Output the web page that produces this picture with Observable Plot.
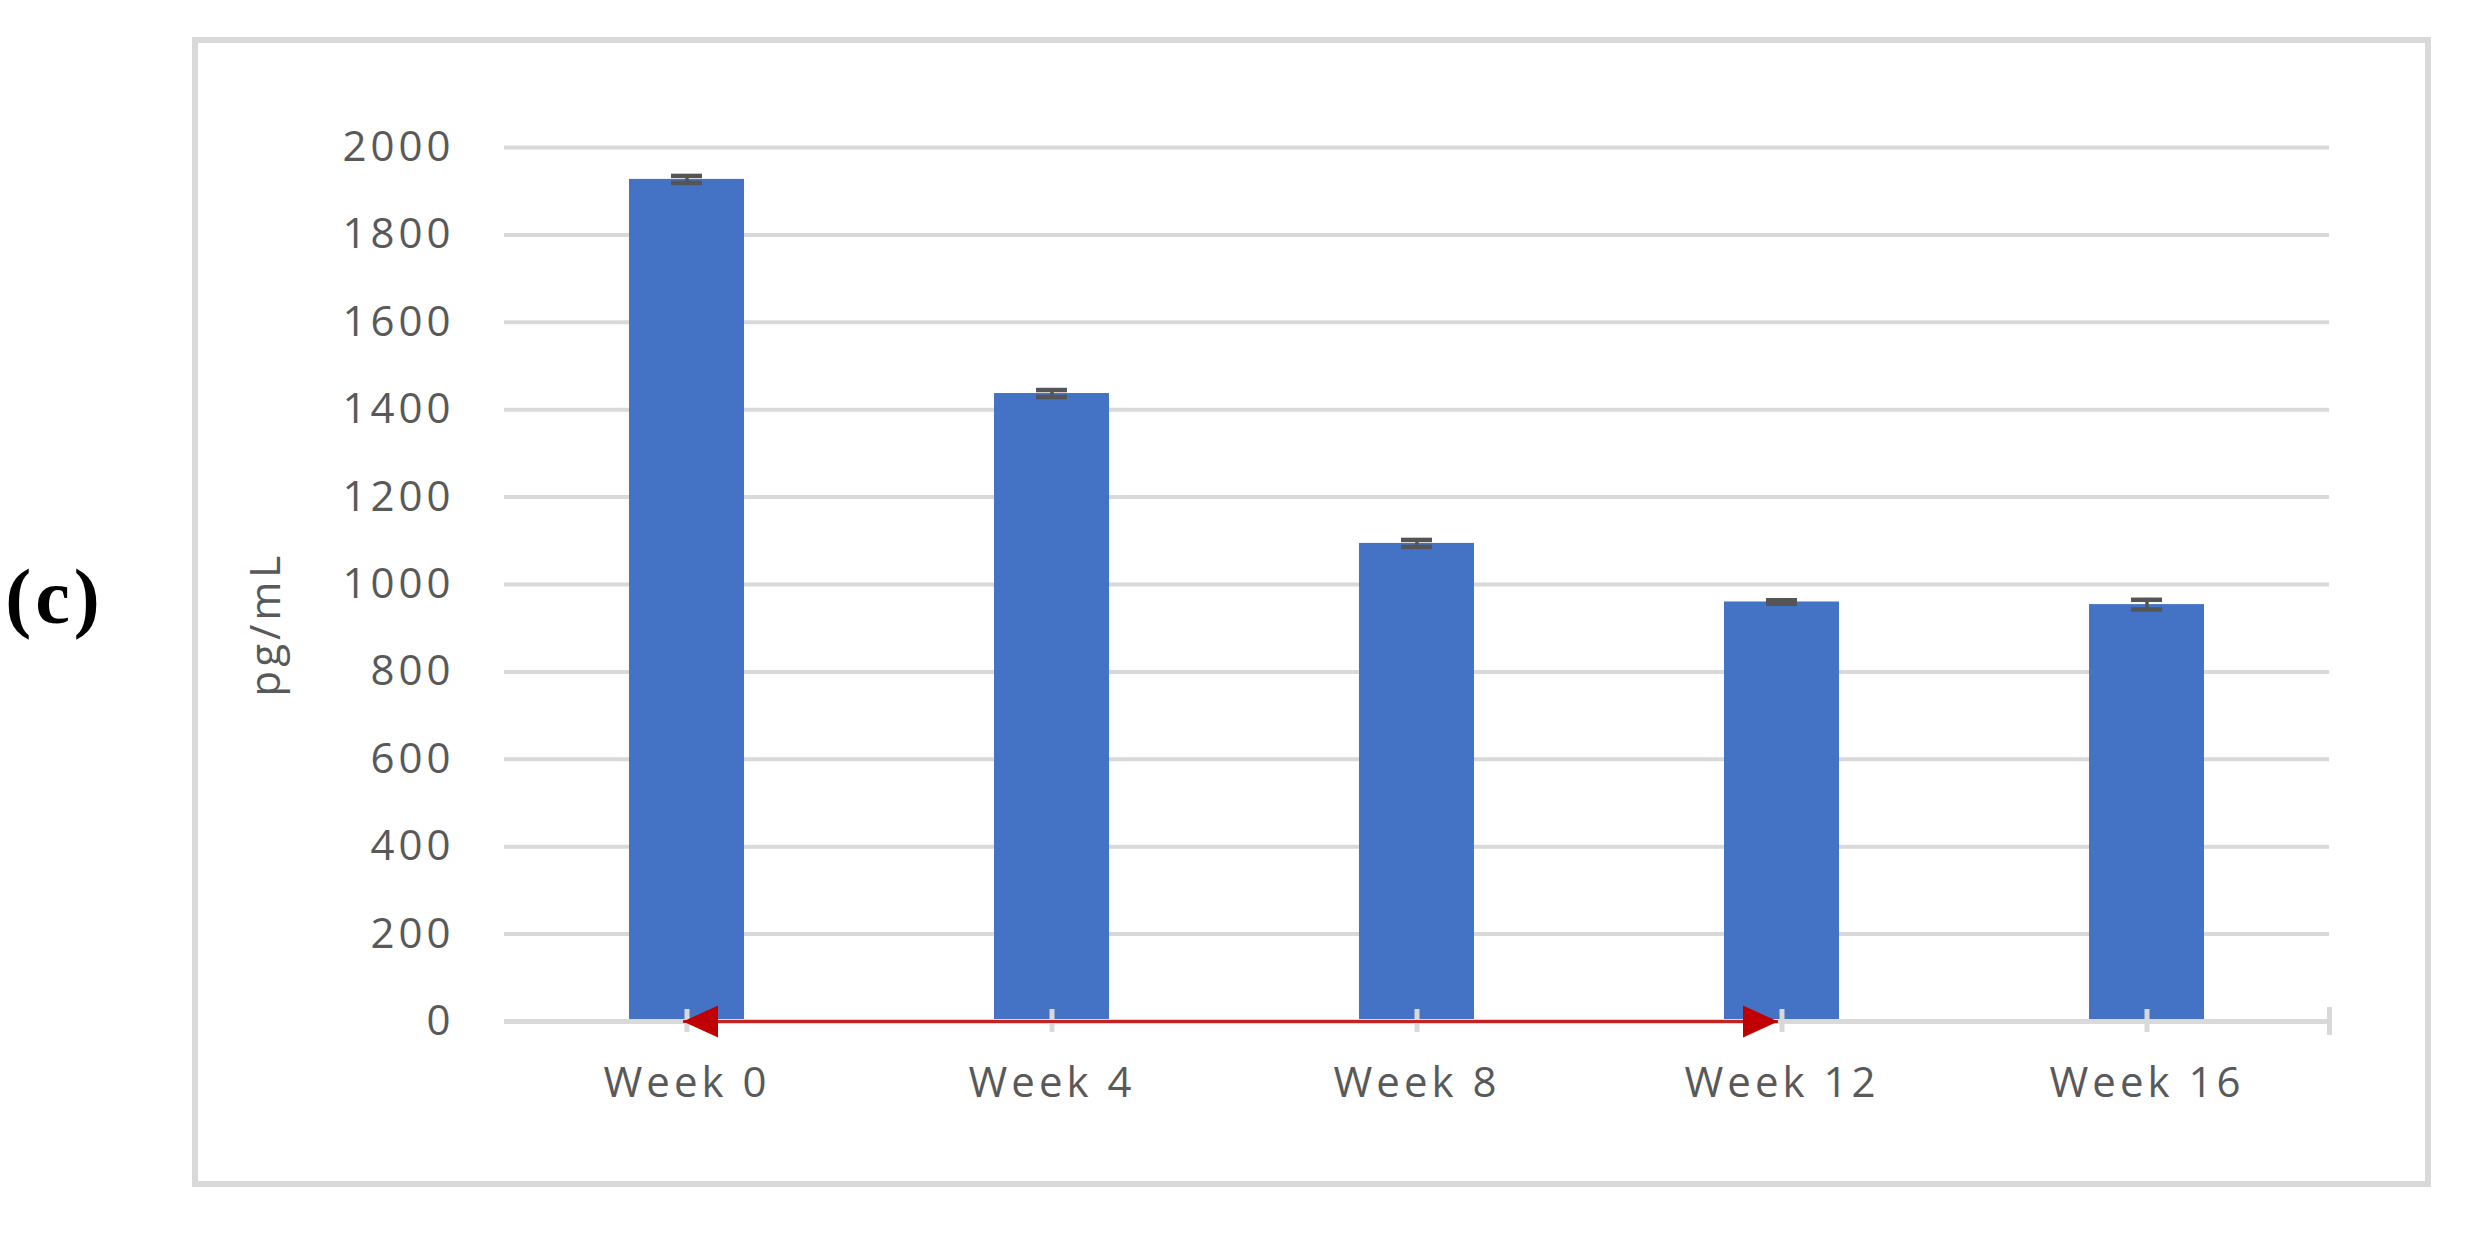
<!DOCTYPE html>
<html>
<head>
<meta charset="utf-8">
<script src="https://cdn.jsdelivr.net/npm/d3@7"></script>
<script src="https://cdn.jsdelivr.net/npm/@observablehq/plot@0.6"></script>
<style>
  html, body { margin: 0; padding: 0; background: #fff; }
  #wrap { position: relative; width: 2471px; height: 1238px; }
  #box { position: absolute; left: 192px; top: 37px; width: 2239px; height: 1150px;
         border: 6px solid #d9d9d9; box-sizing: border-box; pointer-events: none; }
</style>
</head>
<body>
<div id="wrap"><div id="box"></div></div>
<script>
// ---- data ----
const weeks = ["Week 0", "Week 4", "Week 8", "Week 12", "Week 16"];
const values = [1927, 1437, 1094, 960, 954];
const errors = [8, 8, 8, 4, 11];
const yTicks = [0, 200, 400, 600, 800, 1000, 1200, 1400, 1600, 1800, 2000];
const yLabel = "pg/mL";
const panelLabel = "(c)";
const arrowFrom = "Week 0";
const arrowTo = "Week 12";

const data = weeks.map((w, i) => ({week: w, value: values[i], err: errors[i]}));

const W = 2471, H = 1238;
const mTop = 147, mBottom = 217, mLeft = 504, mRight = 142;
const plotH = H - mTop - mBottom;

const gray = "#d9d9d9";
const textGray = "#595959";
const red = "#c00000";

// arrowhead symbols with the tip at the origin
const headLeft = {draw(ctx) { ctx.moveTo(0, 0); ctx.lineTo(35, -16); ctx.lineTo(35, 16); ctx.closePath(); }};
const headRight = {draw(ctx) { ctx.moveTo(0, 0); ctx.lineTo(-35, -16); ctx.lineTo(-35, 16); ctx.closePath(); }};

const chart = Plot.plot({
  width: W,
  height: H,
  marginTop: mTop,
  marginBottom: mBottom,
  marginLeft: mLeft,
  marginRight: mRight,
  style: {
    background: "transparent",
    fontFamily: "'Open Sans', sans-serif",
    fontSize: "42px",
    color: textGray,
    letterSpacing: "4px"
  },
  x: {domain: weeks, paddingInner: 0.685, paddingOuter: 0.3425, axis: null},
  y: {domain: [0, 2000], axis: null},
  marks: [
    Plot.gridY({ticks: yTicks, stroke: gray, strokeOpacity: 1, strokeWidth: 4}),
    Plot.barY(data, {x: "week", y: "value", fill: "#4472c4"}),
    Plot.ruleY([0], {stroke: gray, strokeWidth: 5}),
    Plot.ruleX(weeks, {x: d => d, stroke: gray, strokeWidth: 5, insetTop: plotH - 12, insetBottom: -11}),
    Plot.frame({anchor: "right", stroke: gray, strokeWidth: 5, insetTop: plotH - 12, insetBottom: -11}),
    Plot.ruleX(data, {x: "week", y1: d => d.value - d.err, y2: d => d.value + d.err, stroke: "#555555", strokeWidth: 3.5}),
    Plot.tickY(data, {x: "week", y: d => d.value + d.err, stroke: "#555555", strokeWidth: 4.5, insetLeft: 42, insetRight: 42}),
    Plot.tickY(data, {x: "week", y: d => d.value - d.err, stroke: "#555555", strokeWidth: 4.5, insetLeft: 42, insetRight: 42}),
    Plot.axisY({ticks: yTicks, tickSize: 0, tickPadding: 50, tickFormat: d3.format("d"), label: null, fill: textGray}),
    Plot.axisX({tickSize: 0, tickPadding: 46, label: null, fill: textGray}),
    Plot.link([{a: arrowFrom, b: arrowTo}], {x1: "a", x2: "b", y1: 0, y2: 0, stroke: red, strokeOpacity: 0.85, strokeWidth: 3, dx: -4}),
    Plot.dot([arrowFrom], {x: d => d, y: 0, symbol: headLeft, r: 10, fill: red, stroke: "none", dx: -4}),
    Plot.dot([arrowTo], {x: d => d, y: 0, symbol: headRight, r: 10, fill: red, stroke: "none", dx: -4}),
    Plot.text([yLabel], {frameAnchor: "left", text: d => d, rotate: -90, dx: -238, dy: 112, fill: textGray, fontSize: 42, letterSpacing: "2px"}),
    Plot.text([panelLabel], {frameAnchor: "left", text: d => d, dx: -450, dy: 14, fill: "#000",
      fontFamily: "'Liberation Serif', serif", fontWeight: "bold", fontSize: 78, textAnchor: "middle", letterSpacing: "0px"})
  ]
});
chart.style.position = "absolute";
chart.style.left = "0px";
chart.style.top = "0px";
document.getElementById("wrap").prepend(chart);
</script>
</body>
</html>
